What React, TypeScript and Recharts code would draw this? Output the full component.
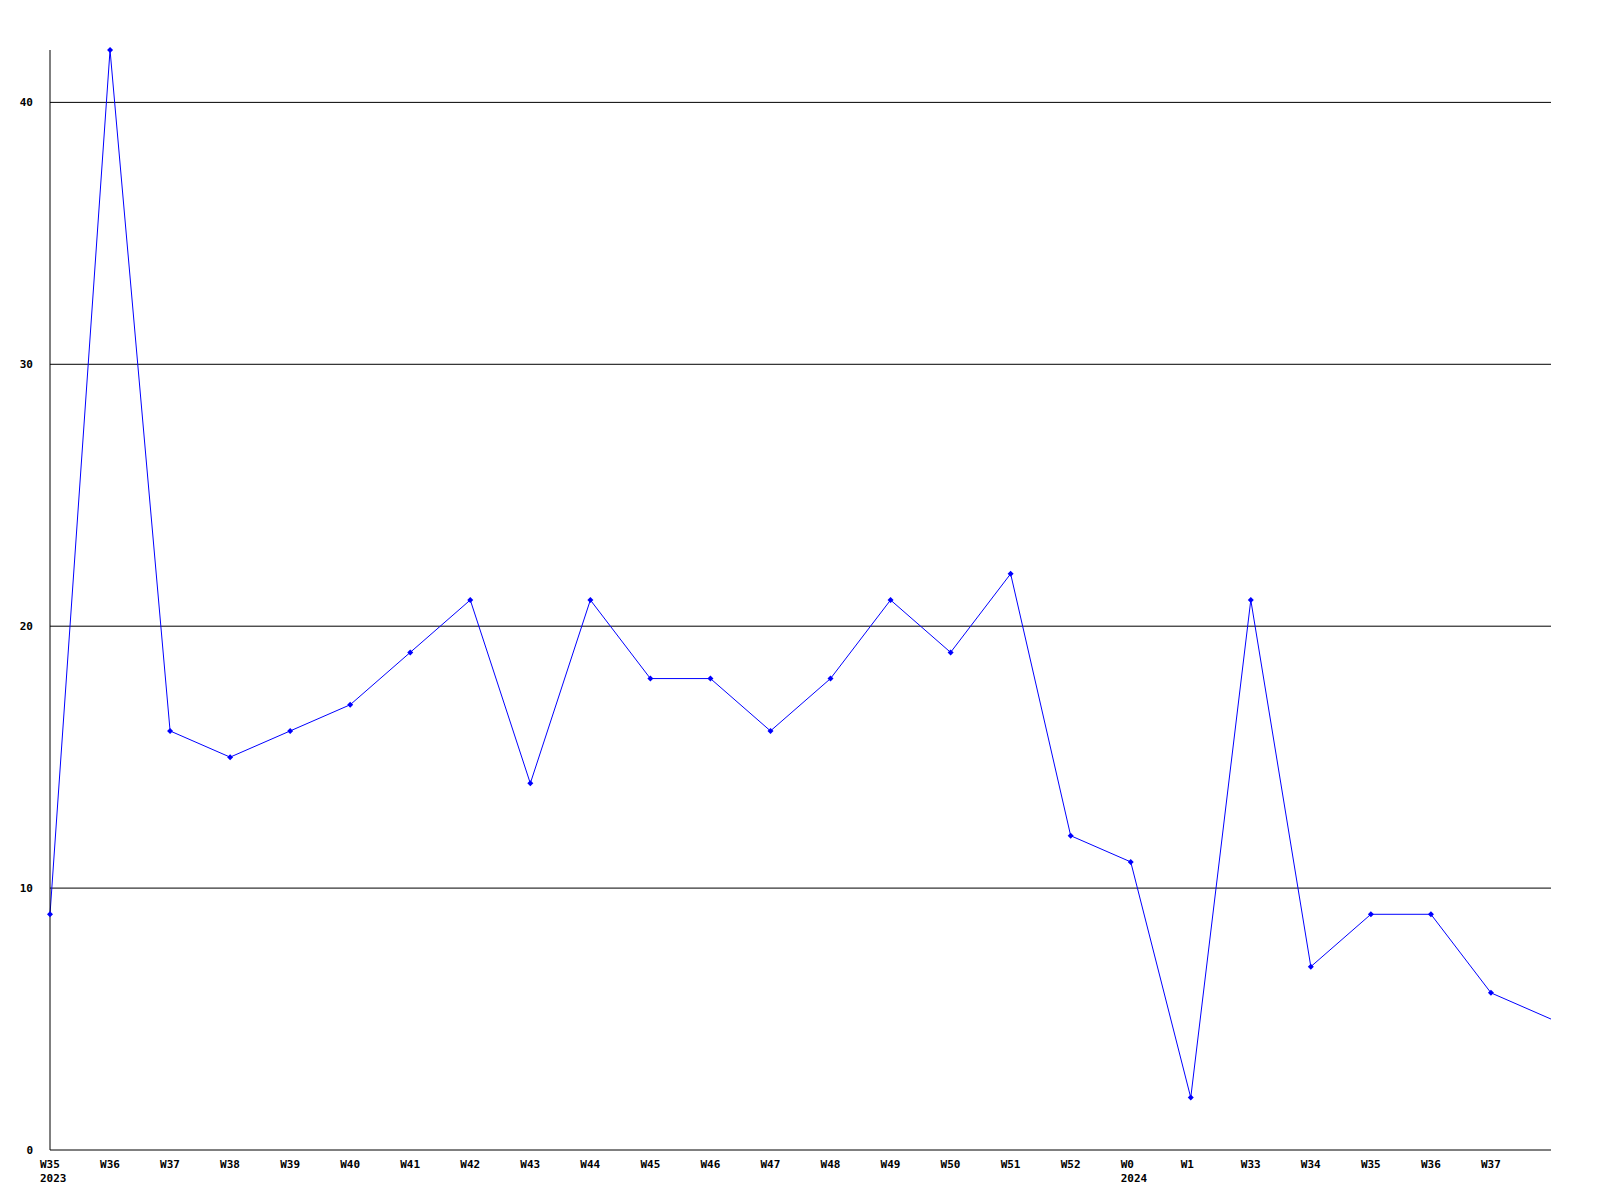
import { LineChart, Line, XAxis, YAxis, ReferenceLine } from 'recharts';

const WEEKS = [
    'W35', 'W36', 'W37', 'W38', 'W39', 'W40', 'W41', 'W42', 'W43', 'W44',
    'W45', 'W46', 'W47', 'W48', 'W49', 'W50', 'W51', 'W52', 'W0', 'W1',
    'W33', 'W34', 'W35', 'W36', 'W37', '',
];
const YEARS: Record<number, string> = { 0: '2023', 18: '2024' };
const COUNTS = [9, 42, 16, 15, 16, 17, 19, 21, 14, 21, 18, 18, 16, 18, 21, 19, 22, 12, 11, 2, 21, 7, 9, 9, 6, 5];
const Y_TICKS = [0, 10, 20, 30, 40];
const GRID_VALUES = [10, 20, 30, 40];

const data = COUNTS.map((count, i) => ({ i, count }));
const X_TICKS = WEEKS.map((w, i) => i).filter((i) => WEEKS[i] !== '');

const FONT = '"DejaVu Sans Mono", monospace';

function WeekTick(props: any) {
    const { x, y, payload } = props;
    const idx = payload.value as number;
    const year = YEARS[idx];
    return (
        <g>
            <text x={x - 10} y={y + 10} textAnchor="start" fontFamily={FONT} fontWeight="bold" fontSize={11} fill="#000">
                {WEEKS[idx]}
            </text>
            {year && (
                <text x={x - 10} y={y + 24} textAnchor="start" fontFamily={FONT} fontWeight="bold" fontSize={11} fill="#000">
                    {year}
                </text>
            )}
        </g>
    );
}

function Marker(props: any) {
    const { cx, cy, index } = props;
    if (index === COUNTS.length - 1) return <g key={index} />;
    return (
        <path
            key={index}
            d={`M${cx - 3},${cy} L${cx},${cy - 3} L${cx + 3},${cy} L${cx},${cy + 3} Z`}
            fill="#0000ff"
            stroke="none"
        />
    );
}

export default function App() {
    return (
        <div style={{ position: 'absolute', left: 0, top: 0, width: 1600, height: 1200, background: '#fff' }}>
            <LineChart width={1600} height={1200} data={data} margin={{ top: 50, right: 49, bottom: 0, left: 0 }}>
                {GRID_VALUES.map((v) => (
                    <ReferenceLine key={v} y={v} stroke="#000" strokeWidth={1} />
                ))}
                <XAxis
                    dataKey="i"
                    type="number"
                    domain={[0, 25]}
                    ticks={X_TICKS}
                    interval={0}
                    height={50}
                    axisLine={{ stroke: '#000' }}
                    tickLine={false}
                    tick={<WeekTick />}
                />
                <YAxis
                    domain={[0, 42]}
                    ticks={Y_TICKS}
                    width={50}
                    axisLine={{ stroke: '#000' }}
                    tickLine={false}
                    tickMargin={11}
                    tick={{ fontFamily: FONT, fontWeight: 'bold', fontSize: 11, fill: '#000' }}
                />
                <Line
                    type="linear"
                    dataKey="count"
                    stroke="#0000ff"
                    strokeWidth={1}
                    dot={<Marker />}
                    activeDot={false}
                    isAnimationActive={false}
                />
            </LineChart>
        </div>
    );
}
